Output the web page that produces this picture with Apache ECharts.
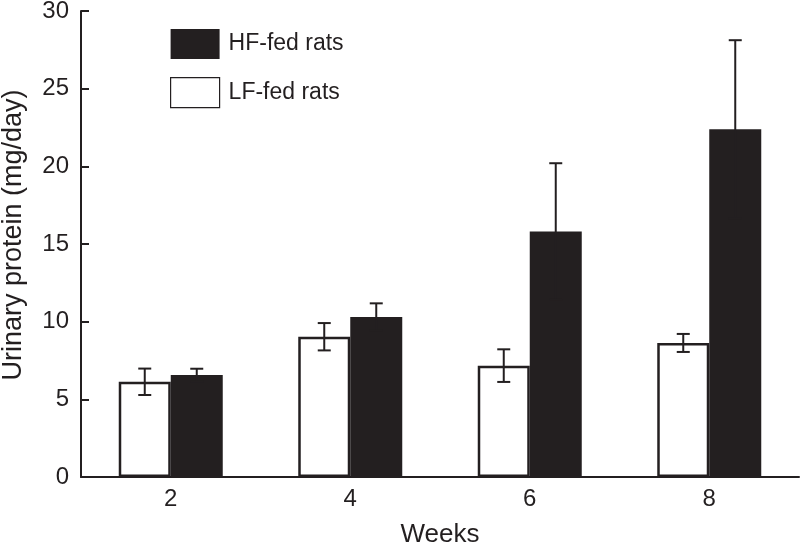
<!DOCTYPE html>
<html>
<head>
<meta charset="utf-8">
<script src="https://cdn.jsdelivr.net/npm/echarts@6/dist/echarts.min.js"></script>
<style>html,body{margin:0;padding:0;background:#fff}#c{width:800px;height:547px}</style>
</head>
<body>
<div id="c"></div>
<script>
const weeks = ['2', '4', '6', '8'];
const lfMean = [6.13, 9.03, 7.17, 8.63];
const lfErr = [0.85, 0.88, 1.05, 0.58];
const hfMean = [6.57, 10.3, 15.8, 22.39];
const hfErr = [0.4, 0.88, 4.4, 5.73];
const yTicks = { min: 0, max: 30, interval: 5 };

const INK = '#231f20';
const FONT = 'Liberation Sans, Arial, Helvetica, sans-serif';
const BAR_W = 52;

function errData(means, errs) {
  return means.map((m, i) => [i, m, errs[i]]);
}
function errRender(side) {
  return function (params, api) {
    const i = api.value(0), m = api.value(1), e = api.value(2);
    const c = api.coord([i, m]);
    const x = c[0] + side * BAR_W / 2;
    const top = api.coord([i, m + e])[1];
    const bot = api.coord([i, m - e])[1];
    const cap = 6.5;
    const st = { stroke: INK, lineWidth: 2 };
    return {
      type: 'group',
      children: [
        { type: 'line', shape: { x1: x, y1: top, x2: x, y2: bot }, style: st },
        { type: 'line', shape: { x1: x - cap, y1: top, x2: x + cap, y2: top }, style: st },
        { type: 'line', shape: { x1: x - cap, y1: bot, x2: x + cap, y2: bot }, style: st }
      ]
    };
  };
}

const chart = echarts.init(document.getElementById('c'));
chart.setOption({
  animation: false,
  backgroundColor: '#fff',
  textStyle: { fontFamily: FONT, color: INK },
  grid: { left: 81, right: 1, top: 11, bottom: 70, containLabel: false, outerBoundsMode: 'none' },
  legend: {
    orient: 'vertical',
    left: 165, top: 24,
    icon: 'rect',
    itemWidth: 49, itemHeight: 30, itemGap: 18,
    textStyle: { fontSize: 23, color: INK, fontFamily: FONT, padding: [0, 0, 0, 4] },
    data: [
      { name: 'HF-fed rats' },
      { name: 'LF-fed rats', itemStyle: { borderWidth: 1.2 } }
    ]
  },
  xAxis: {
    type: 'category',
    data: weeks,
    boundaryGap: true,
    name: 'Weeks',
    nameLocation: 'middle',
    nameGap: 45,
    nameTextStyle: { fontSize: 26, color: INK, fontFamily: FONT },
    axisLine: { lineStyle: { color: INK, width: 2 } },
    axisTick: { inside: true, length: 9, lineStyle: { color: INK, width: 2 } },
    axisLabel: { fontSize: 24, color: INK, margin: 10, fontFamily: FONT },
    splitLine: { show: false }
  },
  yAxis: {
    type: 'value',
    min: yTicks.min, max: yTicks.max, interval: yTicks.interval,
    name: 'Urinary protein (mg/day)',
    nameLocation: 'middle',
    nameGap: 54,
    nameTextStyle: { fontSize: 27, color: INK, fontFamily: FONT, padding: [0, 0, 0, 18] },
    axisLine: { show: true, lineStyle: { color: INK, width: 2 } },
    axisTick: { show: true, inside: true, length: 8, lineStyle: { color: INK, width: 2 } },
    axisLabel: { fontSize: 24, color: INK, margin: 12, fontFamily: FONT },
    splitLine: { show: false }
  },
  series: [
    {
      name: 'LF-fed rats', type: 'bar', data: lfMean,
      barWidth: BAR_W, barGap: '0%',
      itemStyle: { color: '#fff', borderColor: INK, borderWidth: 2.5 }
    },
    {
      name: 'HF-fed rats', type: 'bar', data: hfMean,
      barWidth: BAR_W, barGap: '0%',
      itemStyle: { color: INK, borderColor: INK, borderWidth: 0 }
    },
    {
      type: 'custom', name: 'lfErr', data: errData(lfMean, lfErr),
      renderItem: errRender(-1), encode: { x: 0, y: 1 }, z: 5, silent: true
    },
    {
      type: 'custom', name: 'hfErr', data: errData(hfMean, hfErr),
      renderItem: errRender(1), encode: { x: 0, y: 1 }, z: 5, silent: true
    }
  ]
});
</script>
</body>
</html>
